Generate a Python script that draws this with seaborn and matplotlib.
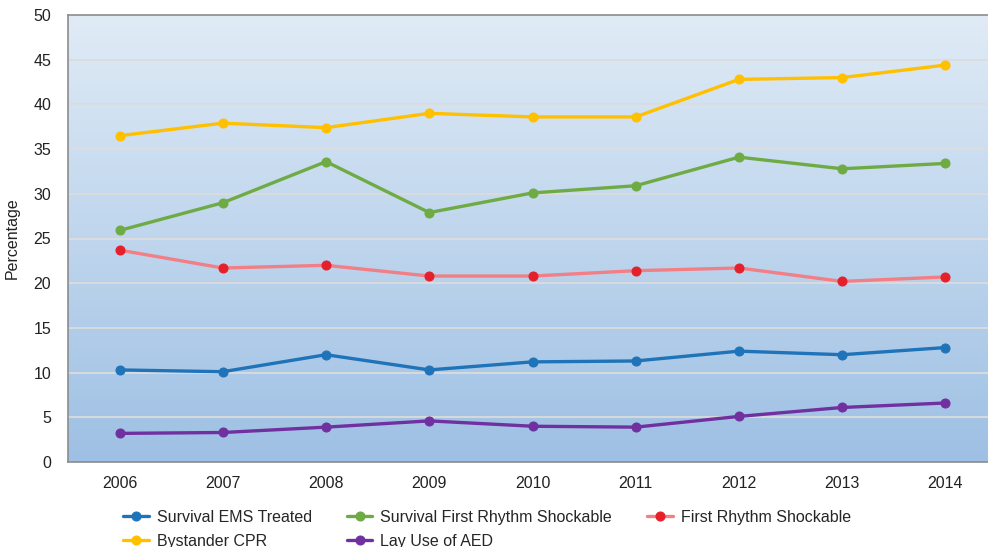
import numpy as np
import pandas as pd
import matplotlib
matplotlib.use("Agg")
import matplotlib.pyplot as plt
import seaborn as sns

years = ["2006", "2007", "2008", "2009", "2010", "2011", "2012", "2013", "2014"]
survival_ems = [10.3, 10.1, 12.0, 10.3, 11.2, 11.3, 12.4, 12.0, 12.8]
survival_shockable = [25.9, 29.0, 33.6, 27.9, 30.1, 30.9, 34.1, 32.8, 33.4]
first_shockable = [23.7, 21.7, 22.0, 20.8, 20.8, 21.4, 21.7, 20.2, 20.7]
bystander_cpr = [36.5, 37.9, 37.4, 39.0, 38.6, 38.6, 42.8, 43.0, 44.4]
lay_aed = [3.2, 3.3, 3.9, 4.6, 4.0, 3.9, 5.1, 6.1, 6.6]

series = [
    ("Survival EMS Treated", survival_ems, "#1f73b9", "#1f73b9"),
    ("Survival First Rhythm Shockable", survival_shockable, "#6fab45", "#6fab45"),
    ("First Rhythm Shockable", first_shockable, "#f27f85", "#e5202a"),
    ("Bystander CPR", bystander_cpr, "#ffc000", "#ffc000"),
    ("Lay Use of AED", lay_aed, "#7030a0", "#7030a0"),
]

sns.set_style("white")
plt.rcParams['font.family'] = ['Liberation Sans', 'DejaVu Sans']

fig = plt.figure(figsize=(9.88, 5.47), dpi=100)
ax = fig.add_axes([68 / 988, 1 - 462 / 547, 929 / 988, 447 / 547])

# blue gradient background
grad = np.linspace(0, 1, 256).reshape(-1, 1)
cmap = matplotlib.colors.LinearSegmentedColormap.from_list("bg", ["#e0ebf6", "#9ec0e4"])
ax.imshow(grad, aspect="auto", cmap=cmap, extent=(0, 1, 0, 1),
          transform=ax.transAxes, zorder=0)

x = np.arange(len(years))
handles = {}
for name, vals, lc, mc in series:
    df = pd.DataFrame({"x": x, "y": vals})
    sns.lineplot(data=df, x="x", y="y", ax=ax, color=lc, lw=2.4,
                 marker="o", markersize=6.5, mfc=mc, mec=mc, zorder=3,
                 label=name, legend=False)
    handles[name] = ax.lines[-1]

ax.set_xlim(-0.5, 8.5)
ax.set_ylim(0, 50)
ax.set_xticks(x)
ax.set_xticklabels(years)
ax.set_yticks(range(0, 51, 5))
ax.tick_params(axis="both", length=0, labelsize=11.5, colors="#222222")
ax.tick_params(axis="x", pad=10)
ax.tick_params(axis="y", pad=12)
ax.set_xlabel("")
ax.set_ylabel("Percentage", fontsize=11.5, color="#222222", labelpad=10)
for y in range(5, 50, 5):
    ax.axhline(y, color="#dcdcdc", lw=1.3, zorder=1)
for s in ["top", "left", "bottom"]:
    ax.spines[s].set_color("#8c8c8c")
    ax.spines[s].set_linewidth(1.2)
ax.spines["right"].set_visible(False)

order = ["Survival EMS Treated", "Bystander CPR", "Survival First Rhythm Shockable",
         "Lay Use of AED", "First Rhythm Shockable"]
fig.legend([handles[n] for n in order], order, ncol=3, frameon=False,
           loc="upper left", bbox_to_anchor=(123 / 988, 1 - 510 / 547),
           fontsize=11.5, handlelength=1.6, handletextpad=0.5,
           columnspacing=2.2, labelspacing=0.55, borderaxespad=0, borderpad=0)

fig.savefig("out.png", dpi=100)
